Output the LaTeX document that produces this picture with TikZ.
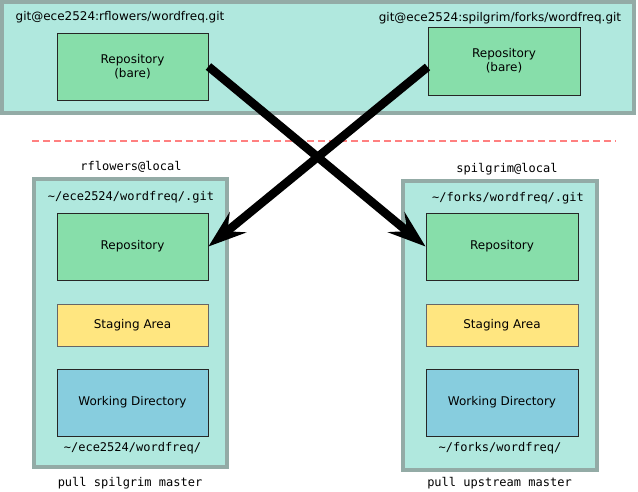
\documentclass[tikz,border=0pt]{standalone}
\usepackage{fontspec}
\setmainfont{DejaVu Sans}
\setmonofont{DejaVu Sans Mono}
\usetikzlibrary{arrows.meta}
\definecolor{hostfill}{HTML}{B0E8DE}
\definecolor{hostline}{HTML}{93ABA6}
\definecolor{repofill}{HTML}{87DEAA}
\definecolor{stagefill}{HTML}{FFE680}
\definecolor{workfill}{HTML}{87CDDE}
\definecolor{sepline}{HTML}{FF8080}
\tikzset{
  host/.style={draw=hostline, fill=hostfill, line width=4pt, rectangle, inner sep=0pt},
  area/.style={draw=black!85, line width=0.9pt, rectangle, minimum width=151pt, align=center, inner sep=0pt},
  repo/.style={area, fill=repofill, minimum height=67pt},
  stage/.style={area, draw=black!60, fill=stagefill, minimum height=42pt},
  work/.style={area, fill=workfill, minimum height=67pt},
  path/.style={font=\ttfamily\fontsize{12}{14}\selectfont},
  push/.style={line width=8.5pt, -{Stealth[length=38pt, width=26pt, inset=14pt]}}
}
\begin{document}
\begin{tikzpicture}[x=1pt, y=-1pt, every node/.style={font=\fontsize{12}{14}\selectfont}]
  \useasboundingbox (0,0) rectangle (638,491);
  % remote server
  \node[host, minimum width=632pt, minimum height=111pt] (server) at (318,57.5) {};
  \node (lurl) at (120,17) {git@ece2524:rflowers/wordfreq.git};
  \node (rurl) at (500,18) {git@ece2524:spilgrim/forks/wordfreq.git};
  \node[repo] (lbare) at (132.5,66.5) {Repository\\(bare)};
  \node[repo, minimum width=152pt, minimum height=68pt] (rbare) at (504,61) {Repository\\(bare)};
  % separator
  \coordinate (sepl) at (32,141);
  \coordinate (sepr) at (616,141);
  \draw[sepline, line width=1.2pt, dash pattern=on 7pt off 4pt] (sepl) -- (sepr);
  % local clones
  \node[host, minimum width=193pt, minimum height=288pt] (lhost) at (130.5,323) {};
  \node[host, minimum width=194pt, minimum height=289pt] (rhost) at (500,325.5) {};
  \node[path] (luser) at (131,167) {rflowers@local};
  \node[path] (ruser) at (507,169) {spilgrim@local};
  \node[path] (lgit) at (131,197) {\textasciitilde/ece2524/wordfreq/.git};
  \node[path] (rgit) at (508,198) {\textasciitilde/forks/wordfreq/.git};
  \node[repo] (lrepo) at (132.5,246.5) {Repository};
  \node[repo, minimum width=152pt] (rrepo) at (502,246.5) {Repository};
  \node[stage] (lstage) at (132.5,325) {Staging Area};
  \node[stage, minimum width=152pt] (rstage) at (502,325) {Staging Area};
  \node[work] (lwork) at (132.5,402.5) {Working Directory};
  \node[work, minimum width=152pt] (rwork) at (502,402.5) {Working Directory};
  \node[path] (ldir) at (132.5,448) {\textasciitilde/ece2524/wordfreq/};
  \node[path] (rdir) at (500,448) {\textasciitilde/forks/wordfreq/};
  \node[path] (lpull) at (130,483) {pull spilgrim master};
  \node[path] (rpull) at (499.5,483) {pull upstream master};
  % pulls
  \draw[push] (lbare.east) -- (rrepo.west);
  \draw[push] ([yshift=-6pt]rbare.west) -- (lrepo.east);
\end{tikzpicture}
\end{document}
